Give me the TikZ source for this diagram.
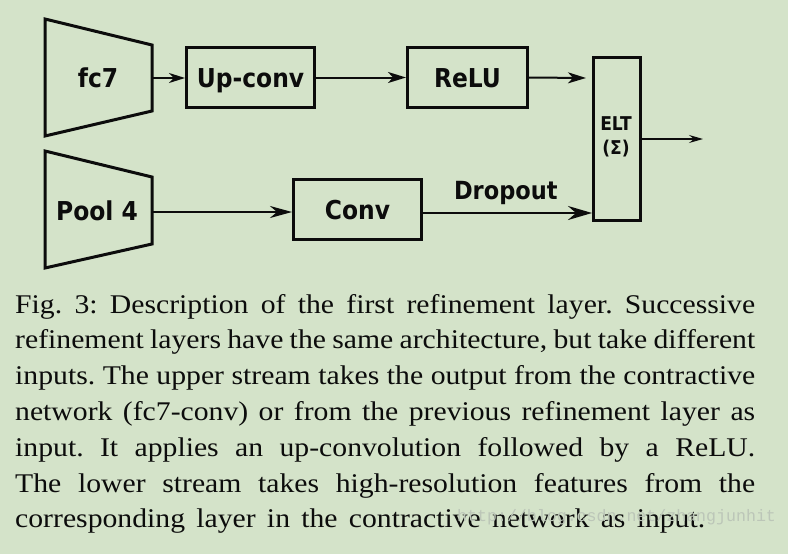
\documentclass[tikz,border=0pt]{standalone}
\usepackage{fontspec}
\setmainfont{Liberation Serif}[FakeStretch=1.1]
\newfontfamily\djv[FakeStretch=0.9]{DejaVu Sans}
\newfontfamily\wmfont{Liberation Mono}
\usetikzlibrary{arrows.meta}
\definecolor{bgc}{RGB}{212,227,201}
\definecolor{ink}{RGB}{12,12,12}
\definecolor{wmc}{RGB}{188,198,184}
\tikzset{
  blk/.style={draw=ink, line width=3pt, inner sep=0pt},
  lbl/.style={font=\djv\bfseries\fontsize{26}{30}\selectfont, text=ink, inner sep=0pt, text height=19pt, text depth=0pt},
  conn/.style={draw=ink, line width=2pt, -{Stealth[length=18pt,width=11pt,inset=5pt]}},
  capline/.style={anchor=base west, inner sep=0pt, text=ink, font=\fontsize{27}{35.8}\selectfont\frenchspacing},
}
\begin{document}
\begin{tikzpicture}[x=1pt,y=-1pt]
\fill[bgc] (0,0) rectangle (788,554);
\useasboundingbox (0,0) rectangle (788,554);
% trapezoids
\draw[ink, line width=3pt, line join=miter] (45,19) -- (152,45) -- (152,111) -- (45,136) -- cycle;
\draw[ink, line width=3pt, line join=miter] (45,151) -- (152,177) -- (152,244) -- (45,268) -- cycle;
\node[lbl] (fc7) at (98,78) {fc7};
\node[lbl] (pool) at (97,211) {Pool 4};
\coordinate (fc7out) at (152,78);
\coordinate (poolout) at (152,212);
% boxes
\node[blk, lbl, minimum width=128pt, minimum height=60pt] (up) at (250.5,77.5) {Up-conv};
\node[blk, lbl, minimum width=120pt, minimum height=60pt] (relu) at (467.5,77.5) {ReLU};
\node[blk, lbl, minimum width=128pt, minimum height=60pt] (conv) at (357.5,209.5) {Conv};
\node[blk, minimum width=47pt, minimum height=163pt] (elt) at (617,139) {};
\node[font=\djv\bfseries\fontsize{19}{24}\selectfont, text=ink, align=center, inner sep=0pt] (elttxt) at (616,136.5) {ELT\\(Σ)};
\coordinate (lowy) at (0,213);
\coordinate (reluend) at (586,78);
\coordinate (outend) at (703,139);
% connectors
\draw[conn, -{Stealth[length=16pt,width=10pt,inset=5pt]}] (fc7out) -- (up.west |- fc7out);
\draw[conn] (up.east) -- (relu.west);
\draw[conn] (relu.east) -- (reluend);
\draw[conn, -{Stealth[length=22pt,width=12pt,inset=7pt]}] (poolout) -- (conv.west |- poolout);
\draw[conn, line width=2.6pt, -{Stealth[length=24pt,width=14pt,inset=8pt]}] (conv.east |- lowy) -- node[lbl, font=\djv\bfseries\fontsize{25}{30}\selectfont, above=12pt, pos=0.49] (drop) {Dropout} (elt.west |- lowy);
\draw[conn, line width=1.5pt, -{Stealth[length=14pt,width=8pt,inset=5pt]}] (elt.east |- outend) -- (outend);
% caption
\node[capline] (c1) at (15,313) {\makebox[740pt][s]{Fig. 3: Description of the first refinement layer. Successive}};
\node[capline] (c2) at (15,348.8) {\makebox[740pt][s]{refinement layers have the same architecture, but take different}};
\node[capline] (c3) at (15,384.6) {\makebox[740pt][s]{inputs. The upper stream takes the output from the contractive}};
\node[capline] (c4) at (15,420.4) {\makebox[740pt][s]{network (fc7-conv) or from the previous refinement layer as}};
\node[capline] (c5) at (15,456.2) {\makebox[740pt][s]{input. It applies an up-convolution followed by a ReLU.}};
\node[capline] (c6) at (15,492) {\makebox[740pt][s]{The lower stream takes high-resolution features from the}};
\node[capline] (c7) at (15,527.8) {\makebox[690pt][s]{corresponding layer in the contractive network as input.}};
% watermark
\node[anchor=base west, inner sep=0pt, text=wmc, font=\wmfont\fontsize{16.6}{20}\selectfont] (wm) at (457,521) {http://blog.csdn.net/zhangjunhit};
\end{tikzpicture}
\end{document}
